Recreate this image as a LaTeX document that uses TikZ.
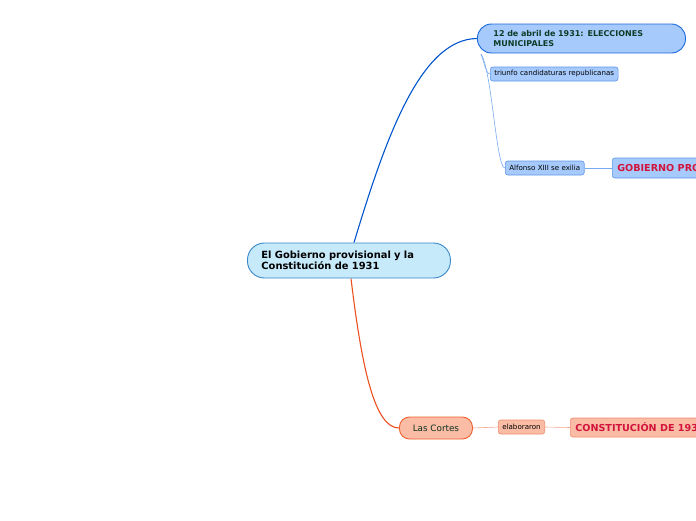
\documentclass[tikz,border=0pt]{standalone}
\usepackage{fontspec}
\setmainfont{DejaVu Sans}
\usetikzlibrary{backgrounds}
\definecolor{cfill}{RGB}{198,234,250}
\definecolor{cdraw}{RGB}{55,135,200}
\definecolor{bfill}{RGB}{166,202,252}
\definecolor{bdraw}{RGB}{25,105,220}
\definecolor{bsdraw}{RGB}{95,150,230}
\definecolor{bline}{RGB}{0,85,205}
\definecolor{blight}{RGB}{120,170,240}
\definecolor{ofill}{RGB}{250,188,165}
\definecolor{odraw}{RGB}{240,95,45}
\definecolor{osdraw}{RGB}{240,140,110}
\definecolor{oline}{RGB}{235,80,30}
\definecolor{olight}{RGB}{245,165,140}
\definecolor{dgreen}{RGB}{15,60,40}
\definecolor{tred}{RGB}{210,20,60}
\tikzset{
  central/.style={draw=cdraw, fill=cfill, line width=0.9pt, rounded corners=17pt, minimum height=35pt, minimum width=203pt, text width=175pt, inner xsep=14pt, align=left, font=\bfseries\fontsize{9.9}{11.2}\selectfont, anchor=west},
  topbox/.style={draw=bdraw, fill=bfill, line width=0.9pt, rounded corners=14pt, minimum height=29pt, minimum width=208pt, text width=176pt, inner xsep=16pt, align=left, text=dgreen, font=\bfseries\fontsize{8}{10}\selectfont, anchor=west},
  smallb/.style={draw=bsdraw, fill=bfill, line width=0.6pt, rounded corners=2.5pt, minimum height=14pt, inner xsep=4pt, inner ysep=0pt, font=\fontsize{7.1}{8}\selectfont, anchor=west},
  bigb/.style={draw=bsdraw, fill=bfill, line width=0.6pt, rounded corners=2.5pt, minimum height=20pt, inner xsep=5pt, inner ysep=0pt, text=tred, font=\bfseries\fontsize{9.6}{12}\selectfont, anchor=west},
  cortes/.style={draw=odraw, fill=ofill, line width=0.9pt, rounded corners=10pt, minimum height=22pt, minimum width=73pt, inner ysep=0pt, text=dgreen!80!black, font=\fontsize{8.8}{10}\selectfont, anchor=west},
  smallo/.style={draw=osdraw, fill=ofill, line width=0.6pt, rounded corners=2.5pt, minimum height=14pt, inner xsep=4pt, inner ysep=0pt, font=\fontsize{7.1}{8}\selectfont, anchor=west},
  bigo/.style={draw=osdraw, fill=ofill, line width=0.6pt, rounded corners=2.5pt, minimum height=19pt, inner xsep=5pt, inner ysep=0pt, text=tred, font=\bfseries\fontsize{9.6}{12}\selectfont, anchor=west},
}
\begin{document}
\begin{tikzpicture}[x=1pt,y=-1pt]
\useasboundingbox (0,0) rectangle (696,520);
\clip (0,0) rectangle (696,520);
% nodes
\node[central] (c) at (247,260.5) {El Gobierno provisional y la\\Constitución de 1931};
\node[topbox] (t) at (477,38.5) {12 de abril de 1931: ELECCIONES\\MUNICIPALES};
\node[smallb] (tr) at (490,74) {triunfo candidaturas republicanas};
\node[smallb] (al) at (505,168) {Alfonso XIII se exilia};
\node[bigb] (gp) at (612,168) {GOBIERNO PROVISIONAL};
\node[cortes] (lc) at (399,428) {Las Cortes};
\node[smallo] (el) at (498,427) {elaboraron};
\node[bigo] (co) at (570,427.5) {CONSTITUCIÓN DE 1931};
\coordinate (tb) at (481,54);
% connectors
\begin{scope}[on background layer]
\draw[bline, line width=1.1pt] (c.north -| 354,0) .. controls (385,140) and (420,39) .. (t.west);
\draw[oline, line width=1.1pt] (c.south -| 351,0) .. controls (362,370) and (375,428) .. (lc.west);
\draw[blight, line width=0.6pt] (tb) .. controls (484,62) and (486,74) .. (tr.west);
\draw[blight, line width=0.6pt] (tb) .. controls (492,70) and (496,168) .. (al.west);
\draw[blight, line width=0.6pt] (al.east) -- (gp.west);
\draw[olight, line width=0.6pt] (lc.east) -- (el.west);
\draw[olight, line width=0.6pt] (el.east) -- (co.west);
\end{scope}
\end{tikzpicture}
\end{document}
